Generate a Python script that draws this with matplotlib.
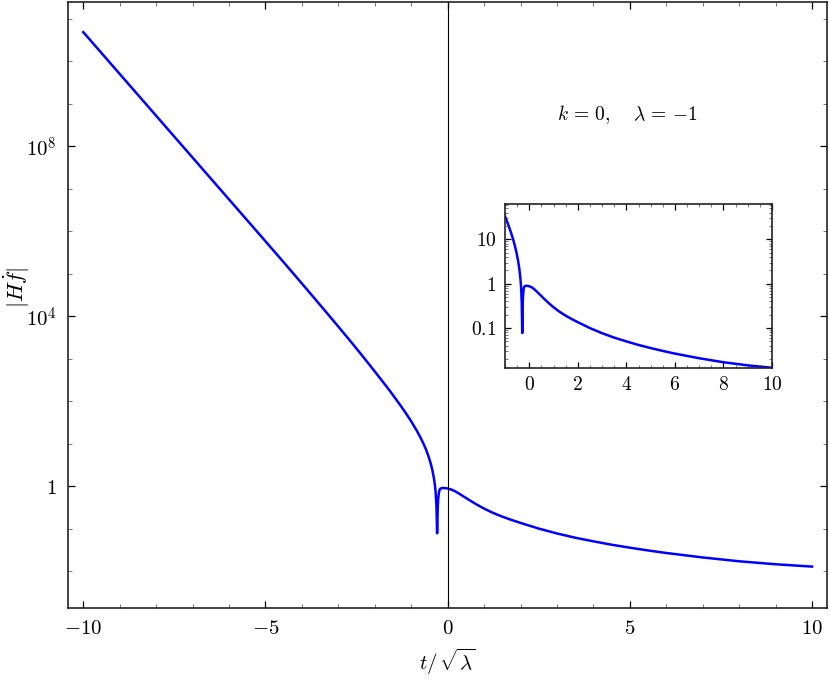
import numpy as np
import matplotlib
matplotlib.use("Agg")
import matplotlib.pyplot as plt
from matplotlib.ticker import FixedLocator, NullFormatter, FixedFormatter, LogLocator

plt.rcParams['mathtext.fontset'] = 'cm'
plt.rcParams['font.family'] = ['DejaVu Serif']

# t / sqrt(lambda) sample points
t_vals = [-10.0, -9.0, -8.0, -7.0, -6.0, -5.0, -4.5, -4.0, -3.5, -3.0, -2.68,
          -2.4, -2.13, -1.85, -1.58, -1.3, -1.15, -1.0, -0.85, -0.75, -0.67,
          -0.6, -0.53, -0.47, -0.42, -0.38, -0.35, -0.33, -0.31, -0.30, -0.29,
          -0.28, -0.27, -0.26, -0.24, -0.22, -0.19, -0.15, -0.10,
          0.0, 0.1, 0.2, 0.3, 0.45, 0.6, 0.75, 0.9, 1.05, 1.2, 1.35, 1.5, 1.75,
          2.0, 2.5, 3.0, 3.5, 4.0, 4.5, 5.0, 5.5, 6.0, 7.0, 8.0, 9.0, 10.0]
# log10 |H fdot|
log10_Hf = [10.69, 9.705, 8.72, 7.735, 6.75, 5.765, 5.27, 4.77, 4.265, 3.755, 3.425,
            3.13, 2.84, 2.535, 2.235, 1.905, 1.72, 1.523, 1.308, 1.15, 1.01,
            0.872, 0.711, 0.546, 0.376, 0.20, 0.02, -0.15, -0.45, -0.75, -1.11,
            -0.75, -0.45, -0.30, -0.15, -0.08, -0.055, -0.045, -0.045,
            -0.055, -0.08, -0.12, -0.17, -0.251, -0.332, -0.41, -0.4835, -0.551, -0.6125, -0.668, -0.719, -0.7965,
            -0.8665, -1.00, -1.115, -1.215, -1.30, -1.38, -1.45, -1.515, -1.575, -1.68, -1.77, -1.84, -1.895]

main_xticks = [-10, -5, 0, 5, 10]
main_xlabels = [r'$-10$', r'$-5$', r'$0$', r'$5$', r'$10$']
main_yticks = [1, 1e4, 1e8]
main_ylabels = [r'$1$', r'$10^4$', r'$10^8$']
inset_xticks = [0, 2, 4, 6, 8, 10]
inset_xlabels = [r'$0$', r'$2$', r'$4$', r'$6$', r'$8$', r'$10$']
inset_yticks = [0.1, 1, 10]
inset_ylabels = [r'$0.1$', r'$1$', r'$10$']

t = np.array(t_vals)
Hf = 10.0 ** np.array(log10_Hf)

W, H = 830, 680
fig = plt.figure(figsize=(W / 100, H / 100), dpi=100)

def frac(x0, y0, x1, y1):
    return [x0 / W, 1 - y1 / H, (x1 - x0) / W, (y1 - y0) / H]

ax = fig.add_axes(frac(68, 2, 827, 608))
ax.plot(t, Hf, color=(0, 0, 1), lw=1.8)
ax.set_yscale('log')
ax.set_xlim(-10.42, 10.41)
ax.set_ylim(10 ** -2.87, 10 ** 11.4)
ax.axvline(0, color='black', lw=0.8)

ax.xaxis.set_major_locator(FixedLocator(main_xticks))
ax.xaxis.set_major_formatter(FixedFormatter(main_xlabels))
ax.xaxis.set_minor_locator(FixedLocator(np.arange(-10, 11, 1)))
ax.yaxis.set_major_locator(FixedLocator(main_yticks))
ax.yaxis.set_major_formatter(FixedFormatter(main_ylabels))
ax.yaxis.set_minor_locator(FixedLocator([10.0 ** k for k in range(-2, 12)]))
ax.yaxis.set_minor_formatter(NullFormatter())
ax.tick_params(which='both', direction='in', top=True, right=True, labelsize=15, color='black')
ax.tick_params(which='major', length=5, width=0.9, pad=8)
ax.tick_params(which='minor', length=3, width=0.7, color='#777777')
for s in ax.spines.values():
    s.set_linewidth(1.2)
    s.set_color('#222222')

fig.text(447 / W, 1 - 662 / H, r'$t/\,\sqrt{\lambda}$', ha='center', va='center', fontsize=15)
fig.text(17 / W, 1 - 288 / H, r'$|H\dot{f}|$', ha='center', va='center', fontsize=16, rotation=90)
fig.text(627 / W, 1 - 115 / H, r'$k\,=\,0,\quad\,\lambda\,=\,{-}1$', ha='center', va='center', fontsize=14)

# inset
ai = fig.add_axes(frac(505, 204, 772, 368))
ai.plot(t, Hf, color=(0, 0, 1), lw=1.8)
ai.set_yscale('log')
ai.set_xlim(-1, 10)
ai.set_ylim(10 ** -1.9, 10 ** 1.8)
ai.xaxis.set_major_locator(FixedLocator(inset_xticks))
ai.xaxis.set_major_formatter(FixedFormatter(inset_xlabels))
ai.xaxis.set_minor_locator(FixedLocator(np.arange(-1, 10.01, 0.5)))
ai.yaxis.set_major_locator(FixedLocator(inset_yticks))
ai.yaxis.set_major_formatter(FixedFormatter(inset_ylabels))
ai.yaxis.set_minor_locator(LogLocator(base=10, subs=np.arange(2, 10)))
ai.yaxis.set_minor_formatter(NullFormatter())
ai.tick_params(which='both', direction='in', top=True, right=True, labelsize=14)
ai.tick_params(which='major', length=4, width=0.9, pad=6)
ai.tick_params(which='minor', length=2, width=0.7, color='#777777')
for s in ai.spines.values():
    s.set_linewidth(1.2)
    s.set_color('#222222')

fig.savefig('out.png', dpi=100)
